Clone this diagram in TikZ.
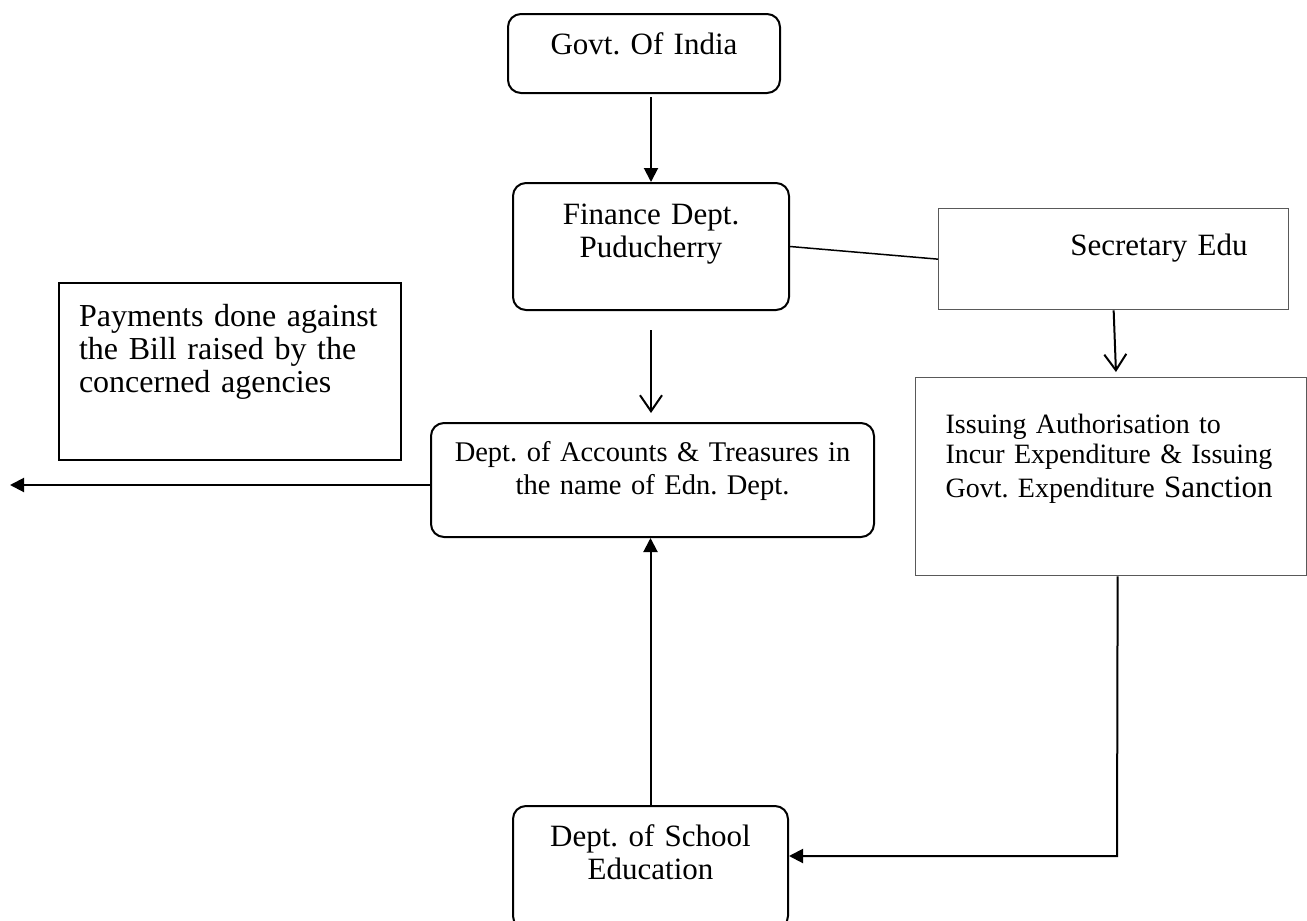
\documentclass[tikz,border=0pt]{standalone}
\usepackage{fontspec}
\setmainfont{Liberation Serif}
\usetikzlibrary{arrows.meta}
\frenchspacing

\begin{document}
\begin{tikzpicture}[x=1pt,y=-1pt]
\tikzset{
	%box with round corners
	rbox/.style={
		rectangle,
		rounded corners=13pt,
		draw=black, line width=2pt,
		anchor=north west,
		inner xsep=0pt, inner ysep=0pt,
		align=center,
		font=\fontsize{31}{33}\selectfont},
	%plain box, thin grey frame
	pbox/.style={
		rectangle,
		draw=black!65, line width=1.3pt,
		anchor=north west,
		inner ysep=0pt,
		font=\fontsize{31}{33}\selectfont},
	% arrow with filled head
	pil/.style={
		-{Triangle[length=14pt,width=14pt]},
		line width=2pt},
	% arrow with open head
	vpil/.style={
		-{Straight Barb[length=16pt,width=22pt]},
		line width=2pt}
}

\useasboundingbox (0,0) rectangle (1307,921);

%middle column
\node[rbox,text width=272pt,text height=40pt,text depth=39pt] at (507,13) (govt) {Govt. Of India};
\node[rbox,text width=276pt,text height=41pt,text depth=86pt] at (512,182) (fin) {Finance Dept.\\Puducherry};
\node[rbox,text width=443pt,text height=38pt,text depth=76pt,font=\fontsize{28.5}{33}\selectfont] at (430,422) (acc) {Dept. of Accounts \& Treasures in\\the name of Edn. Dept.};
\node[rbox,text width=275pt,text height=40pt,text depth=83pt] at (512,805) (sch) {Dept. of School\\Education};

%right column
\node[pbox,align=right,inner xsep=41pt,text width=268pt,text height=47pt,text depth=54pt] at (938,208) (sec) {Secretary Edu};
\node[pbox,align=left,inner xsep=30pt,text width=331pt,text height=56pt,text depth=142pt,font=\fontsize{28}{30}\selectfont] at (915,377) (iss) {Issuing Authorisation to\\Incur Expenditure \& Issuing\\[4pt]\mbox{Govt. Expenditure {\fontsize{31}{33}\selectfont Sanction}}};

%left box
\node[rectangle,draw,line width=2pt,anchor=north west,inner ysep=0pt,inner xsep=20pt,align=left,text width=302pt,text height=43pt,text depth=134pt,font=\fontsize{32}{33}\selectfont] at (58,282) (pay) {Payments done against\\the Bill raised by the\\concerned agencies};

\coordinate (knee) at (1117,856);
\coordinate (out) at (10,485);

%arrows
\draw[pil,shorten <=3pt] (fin.north |- govt.south) -- (fin.north);
\draw[vpil,shorten <=19pt,shorten >=9pt] (fin.south) -- (fin.south |- acc.north);
\draw[line width=1.5pt] (fin.east) -- (sec.west);
\draw[vpil,shorten >=5pt] (sec.south) -- ([xshift=5pt]iss.north);
\draw[pil] ([xshift=6.5pt]iss.south) -- (knee) -- (knee -| sch.east);
\draw[pil] (sch.north) -- (sch.north |- acc.south);
\draw[pil] (out -| acc.west) -- (out);

\end{tikzpicture}
\end{document}
